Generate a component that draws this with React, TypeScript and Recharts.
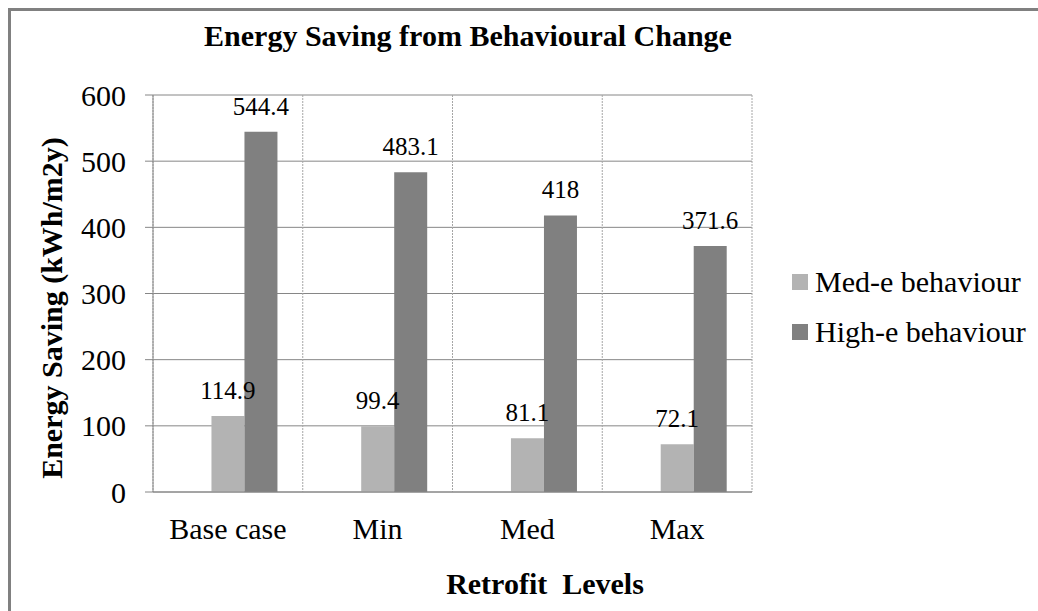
import { BarChart, Bar, XAxis, YAxis, CartesianGrid, Legend, LabelList } from "recharts";

const categories = ["Base case", "Min", "Med", "Max"];
const seriesNames = ["Med-e behaviour", "High-e behaviour"];
const medBehaviour = [114.9, 99.4, 81.1, 72.1];
const highBehaviour = [544.4, 483.1, 418, 371.6];
const yTicks = [0, 100, 200, 300, 400, 500, 600];

const FONT = "'Liberation Serif', Tinos, 'Times New Roman', 'DejaVu Serif', serif";
const LIGHT = "#b3b3b3";
const DARK = "#808080";
const GRID = "#868686";

// the original has an empty first series, so the two bars sit right of the category centre
const data = categories.map((name, i) => ({
  name,
  blank: null,
  med: medBehaviour[i],
  high: highBehaviour[i],
}));

function LegendBox({ payload }: any) {
  const items = (payload || [])
    .filter((p: any) => seriesNames.includes(p.value))
    .sort((a: any, b: any) => seriesNames.indexOf(a.value) - seriesNames.indexOf(b.value));
  return (
    <div style={{ fontFamily: FONT, fontSize: 30, color: "#000" }}>
      {items.map((p: any) => (
        <div key={p.value} style={{ display: "flex", alignItems: "center", height: 50 }}>
          <span style={{ width: 16, height: 16, background: p.color, marginRight: 7, display: "inline-block" }} />
          <span>{p.value}</span>
        </div>
      ))}
    </div>
  );
}

export default function App() {
  return (
    <div
      style={{
        position: "absolute",
        left: 0,
        top: 0,
        width: 1038,
        height: 611,
        overflow: "hidden",
        background: "#fff",
        fontFamily: FONT,
      }}
    >
      <div
        style={{
          position: "absolute",
          left: 8,
          top: 8,
          width: 1100,
          height: 700,
          borderLeft: "3px solid #808080",
          borderTop: "3px solid #808080",
        }}
      />
      <div
        style={{
          position: "absolute",
          left: 0,
          width: 936,
          top: 19,
          textAlign: "center",
          fontWeight: "bold",
          fontSize: 30,
        }}
      >
        Energy Saving from Behavioural Change
      </div>
      <div
        style={{
          position: "absolute",
          left: 345,
          width: 400,
          top: 567,
          textAlign: "center",
          fontWeight: "bold",
          fontSize: 30,
          whiteSpace: "pre",
        }}
      >
        {"Retrofit  Levels"}
      </div>
      <div
        style={{
          position: "absolute",
          left: 52 - 200,
          top: 308 - 20,
          width: 400,
          height: 40,
          lineHeight: "40px",
          textAlign: "center",
          transform: "rotate(-90deg)",
          fontWeight: "bold",
          fontSize: 30,
        }}
      >
        Energy Saving (kWh/m2y)
      </div>
      <div style={{ position: "absolute", left: 0, top: 0 }}>
        <BarChart
          width={1038}
          height={611}
          data={data}
          margin={{ top: 95, right: 286, bottom: 59, left: 83 }}
          barGap={0}
          barCategoryGap="17%"
        >
          <CartesianGrid vertical={false} stroke={GRID} />
          <CartesianGrid
            horizontal={false}
            stroke="#a6a6a6"
            strokeDasharray="2 1"
            verticalCoordinatesGenerator={({ offset }: any) =>
              [0, 1, 2, 3, 4].map((i) => offset.left + (offset.width * i) / categories.length)
            }
          />
          <XAxis
            dataKey="name"
            height={60}
            axisLine={{ stroke: GRID }}
            tickLine={false}
            tickMargin={20}
            tick={{ fontFamily: FONT, fontSize: 30, fill: "#000" }}
            interval={0}
          />
          <YAxis
            width={70}
            domain={[0, 600]}
            ticks={yTicks}
            interval={0}
            axisLine={{ stroke: GRID }}
            tickLine={{ stroke: GRID }}
            tickSize={8}
            tickMargin={19}
            tick={{ fontFamily: FONT, fontSize: 30, fill: "#000" }}
          />
          <Legend
            layout="vertical"
            align="center"
            verticalAlign="middle"
            wrapperStyle={{ left: 792, top: 257, width: 240 }}
            content={<LegendBox />}
          />
          <Bar dataKey="blank" name="" fill="#ffffff" legendType="none" isAnimationActive={false} />
          <Bar dataKey="med" name={seriesNames[0]} fill={LIGHT} isAnimationActive={false}>
            <LabelList dataKey="med" position="top" offset={17} style={{ fontFamily: FONT, fontSize: 25, fill: "#000" }} />
          </Bar>
          <Bar dataKey="high" name={seriesNames[1]} fill={DARK} isAnimationActive={false}>
            <LabelList dataKey="high" position="top" offset={17} style={{ fontFamily: FONT, fontSize: 25, fill: "#000" }} />
          </Bar>
        </BarChart>
      </div>
    </div>
  );
}
